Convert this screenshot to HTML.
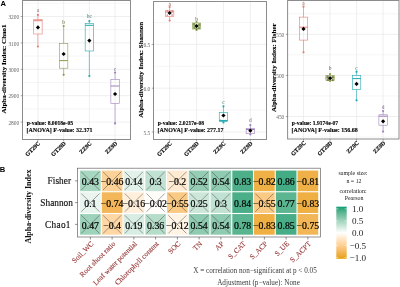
<!DOCTYPE html>
<html><head><meta charset="utf-8"><style>
html,body{margin:0;padding:0;background:#fff;width:400px;height:287px;overflow:hidden;}
svg{display:block;filter:blur(0.55px);}
</style></head><body>
<svg width="400" height="287" viewBox="0 0 400 287">
<rect x="22.5" y="0.5" width="108.0" height="139.0" fill="#fff"/>
<line x1="22.5" x2="130.5" y1="3.30" y2="3.30" stroke="#ececec" stroke-width="0.5"/>
<line x1="22.5" x2="130.5" y1="29.70" y2="29.70" stroke="#ececec" stroke-width="0.5"/>
<line x1="22.5" x2="130.5" y1="56.10" y2="56.10" stroke="#ececec" stroke-width="0.5"/>
<line x1="22.5" x2="130.5" y1="82.50" y2="82.50" stroke="#ececec" stroke-width="0.5"/>
<line x1="22.5" x2="130.5" y1="108.90" y2="108.90" stroke="#ececec" stroke-width="0.5"/>
<line x1="22.5" x2="130.5" y1="135.30" y2="135.30" stroke="#ececec" stroke-width="0.5"/>
<line x1="37.93" x2="37.93" y1="0.5" y2="139.5" stroke="#e4e4e4" stroke-width="0.6"/>
<line x1="63.64" x2="63.64" y1="0.5" y2="139.5" stroke="#e4e4e4" stroke-width="0.6"/>
<line x1="89.36" x2="89.36" y1="0.5" y2="139.5" stroke="#e4e4e4" stroke-width="0.6"/>
<line x1="115.07" x2="115.07" y1="0.5" y2="139.5" stroke="#e4e4e4" stroke-width="0.6"/>
<line x1="22.5" x2="130.5" y1="16.5" y2="16.5" stroke="#e4e4e4" stroke-width="0.6"/>
<line x1="22.5" x2="130.5" y1="42.9" y2="42.9" stroke="#e4e4e4" stroke-width="0.6"/>
<line x1="22.5" x2="130.5" y1="69.3" y2="69.3" stroke="#e4e4e4" stroke-width="0.6"/>
<line x1="22.5" x2="130.5" y1="95.7" y2="95.7" stroke="#e4e4e4" stroke-width="0.6"/>
<line x1="22.5" x2="130.5" y1="122.1" y2="122.1" stroke="#e4e4e4" stroke-width="0.6"/>
<line x1="37.93" x2="37.93" y1="14.9" y2="19.6" stroke="#e47c74" stroke-width="0.6"/>
<line x1="37.93" x2="37.93" y1="34" y2="46.5" stroke="#e47c74" stroke-width="0.6"/>
<rect x="33.73" y="19.6" width="8.4" height="14.40" fill="none" stroke="#e47c74" stroke-width="0.6"/>
<line x1="33.73" x2="42.13" y1="20.7" y2="20.7" stroke="#e47c74" stroke-width="1"/>
<circle cx="37.93" cy="14.9" r="1.1" fill="#e47c74"/>
<circle cx="37.93" cy="46.5" r="1.1" fill="#e47c74"/>
<path d="M37.93 25.30L40.03 27.40L37.93 29.50L35.83 27.40Z" fill="#000"/>
<text x="37.93" y="12.10" font-size="5.4" fill="#906060" text-anchor="middle" font-family='"Liberation Serif", serif'>a</text>
<line x1="63.64" x2="63.64" y1="26" y2="43.5" stroke="#8c9c4c" stroke-width="0.6"/>
<line x1="63.64" x2="63.64" y1="68.2" y2="74.8" stroke="#8c9c4c" stroke-width="0.6"/>
<rect x="59.44" y="43.5" width="8.4" height="24.70" fill="none" stroke="#8c9c4c" stroke-width="0.6"/>
<line x1="59.44" x2="67.84" y1="60.6" y2="60.6" stroke="#8c9c4c" stroke-width="1"/>
<circle cx="63.64" cy="26" r="1.1" fill="#8c9c4c"/>
<circle cx="63.64" cy="74.8" r="1.1" fill="#8c9c4c"/>
<path d="M63.64 51.90L65.74 54.00L63.64 56.10L61.54 54.00Z" fill="#000"/>
<text x="63.64" y="24.00" font-size="5.4" fill="#606040" text-anchor="middle" font-family='"Liberation Serif", serif'>b</text>
<line x1="89.36" x2="89.36" y1="21" y2="23.5" stroke="#22a8b0" stroke-width="0.6"/>
<line x1="89.36" x2="89.36" y1="51" y2="76" stroke="#22a8b0" stroke-width="0.6"/>
<rect x="85.16" y="23.5" width="8.4" height="27.50" fill="none" stroke="#22a8b0" stroke-width="0.6"/>
<line x1="85.16" x2="93.56" y1="25.3" y2="25.3" stroke="#22a8b0" stroke-width="1"/>
<circle cx="89.36" cy="21" r="1.1" fill="#22a8b0"/>
<circle cx="89.36" cy="76" r="1.1" fill="#22a8b0"/>
<path d="M89.36 38.50L91.46 40.60L89.36 42.70L87.26 40.60Z" fill="#000"/>
<text x="89.36" y="17.70" font-size="5.4" fill="#407878" text-anchor="middle" font-family='"Liberation Serif", serif'>bc</text>
<line x1="115.07" x2="115.07" y1="72.5" y2="79.3" stroke="#9e80bc" stroke-width="0.6"/>
<line x1="115.07" x2="115.07" y1="103.5" y2="123.4" stroke="#9e80bc" stroke-width="0.6"/>
<rect x="110.87" y="79.3" width="8.4" height="24.20" fill="none" stroke="#9e80bc" stroke-width="0.6"/>
<line x1="110.87" x2="119.27" y1="86" y2="86" stroke="#9e80bc" stroke-width="1"/>
<circle cx="115.07" cy="72.5" r="1.1" fill="#9e80bc"/>
<circle cx="115.07" cy="123.4" r="1.1" fill="#9e80bc"/>
<path d="M115.07 91.90L117.17 94.00L115.07 96.10L112.97 94.00Z" fill="#000"/>
<text x="115.07" y="70.50" font-size="5.4" fill="#705a80" text-anchor="middle" font-family='"Liberation Serif", serif'>c</text>
<rect x="22.5" y="0.5" width="108.0" height="139.0" fill="none" stroke="#8c8c8c" stroke-width="1"/>
<line x1="20.7" x2="22.5" y1="16.5" y2="16.5" stroke="#555" stroke-width="0.5"/>
<text x="19.2" y="19.1" font-size="5.4" fill="#666" text-anchor="end" font-family='"Liberation Serif", serif'>3200</text>
<line x1="20.7" x2="22.5" y1="42.9" y2="42.9" stroke="#555" stroke-width="0.5"/>
<text x="19.2" y="45.5" font-size="5.4" fill="#666" text-anchor="end" font-family='"Liberation Serif", serif'>3100</text>
<line x1="20.7" x2="22.5" y1="69.3" y2="69.3" stroke="#555" stroke-width="0.5"/>
<text x="19.2" y="71.89999999999999" font-size="5.4" fill="#666" text-anchor="end" font-family='"Liberation Serif", serif'>3000</text>
<line x1="20.7" x2="22.5" y1="95.7" y2="95.7" stroke="#555" stroke-width="0.5"/>
<text x="19.2" y="98.3" font-size="5.4" fill="#666" text-anchor="end" font-family='"Liberation Serif", serif'>2900</text>
<line x1="20.7" x2="22.5" y1="122.1" y2="122.1" stroke="#555" stroke-width="0.5"/>
<text x="19.2" y="124.69999999999999" font-size="5.4" fill="#666" text-anchor="end" font-family='"Liberation Serif", serif'>2800</text>
<line x1="37.93" x2="37.93" y1="139.5" y2="141.3" stroke="#555" stroke-width="0.5"/>
<text transform="translate(40.53,143.8) rotate(-45)" font-size="5.8" font-weight="bold" fill="#111" stroke="#111" stroke-width="0.2" text-anchor="end" font-family='"Liberation Serif", serif'>GT29C</text>
<line x1="63.64" x2="63.64" y1="139.5" y2="141.3" stroke="#555" stroke-width="0.5"/>
<text transform="translate(66.24,143.8) rotate(-45)" font-size="5.8" font-weight="bold" fill="#111" stroke="#111" stroke-width="0.2" text-anchor="end" font-family='"Liberation Serif", serif'>GT29D</text>
<line x1="89.36" x2="89.36" y1="139.5" y2="141.3" stroke="#555" stroke-width="0.5"/>
<text transform="translate(91.96,143.8) rotate(-45)" font-size="5.8" font-weight="bold" fill="#111" stroke="#111" stroke-width="0.2" text-anchor="end" font-family='"Liberation Serif", serif'>ZZ9C</text>
<line x1="115.07" x2="115.07" y1="139.5" y2="141.3" stroke="#555" stroke-width="0.5"/>
<text transform="translate(117.67,143.8) rotate(-45)" font-size="5.8" font-weight="bold" fill="#111" stroke="#111" stroke-width="0.2" text-anchor="end" font-family='"Liberation Serif", serif'>ZZ9D</text>
<text transform="translate(5.5,69) rotate(-90)" font-size="7" font-weight="bold" fill="#000" stroke="#000" stroke-width="0.12" text-anchor="middle" font-family='"Liberation Serif", serif'>Alpha-diversity Index: Chao1</text>
<text x="26.7" y="125.2" font-size="5.6" font-weight="bold" fill="#000" stroke="#000" stroke-width="0.12" font-family='"Liberation Serif", serif'>p-value: 8.0018e-05</text>
<text x="26.5" y="132.3" font-size="6.0" font-weight="bold" fill="#000" stroke="#000" stroke-width="0.12" font-family='"Liberation Serif", serif'>[ANOVA] F-value: 32.371</text>
<rect x="153.5" y="1.5" width="113.0" height="138.0" fill="#fff"/>
<line x1="153.5" x2="266.5" y1="22.50" y2="22.50" stroke="#ececec" stroke-width="0.5"/>
<line x1="153.5" x2="266.5" y1="66.30" y2="66.30" stroke="#ececec" stroke-width="0.5"/>
<line x1="153.5" x2="266.5" y1="110.10" y2="110.10" stroke="#ececec" stroke-width="0.5"/>
<line x1="169.64" x2="169.64" y1="1.5" y2="139.5" stroke="#e4e4e4" stroke-width="0.6"/>
<line x1="196.55" x2="196.55" y1="1.5" y2="139.5" stroke="#e4e4e4" stroke-width="0.6"/>
<line x1="223.45" x2="223.45" y1="1.5" y2="139.5" stroke="#e4e4e4" stroke-width="0.6"/>
<line x1="250.36" x2="250.36" y1="1.5" y2="139.5" stroke="#e4e4e4" stroke-width="0.6"/>
<line x1="153.5" x2="266.5" y1="44.4" y2="44.4" stroke="#e4e4e4" stroke-width="0.6"/>
<line x1="153.5" x2="266.5" y1="88.2" y2="88.2" stroke="#e4e4e4" stroke-width="0.6"/>
<line x1="153.5" x2="266.5" y1="132" y2="132" stroke="#e4e4e4" stroke-width="0.6"/>
<line x1="169.64" x2="169.64" y1="7" y2="10.8" stroke="#e47c74" stroke-width="0.6"/>
<line x1="169.64" x2="169.64" y1="16.6" y2="20.6" stroke="#e47c74" stroke-width="0.6"/>
<rect x="165.44" y="10.8" width="8.4" height="5.80" fill="none" stroke="#e47c74" stroke-width="0.6"/>
<line x1="165.44" x2="173.84" y1="12" y2="12" stroke="#e47c74" stroke-width="1"/>
<circle cx="169.64" cy="7" r="1.1" fill="#e47c74"/>
<circle cx="169.64" cy="20.6" r="1.1" fill="#e47c74"/>
<path d="M169.64 10.90L171.74 13.00L169.64 15.10L167.54 13.00Z" fill="#000"/>
<text x="169.64" y="5.90" font-size="5.4" fill="#906060" text-anchor="middle" font-family='"Liberation Serif", serif'>a</text>
<line x1="196.55" x2="196.55" y1="22" y2="23" stroke="#8c9c4c" stroke-width="0.6"/>
<line x1="196.55" x2="196.55" y1="29" y2="30" stroke="#8c9c4c" stroke-width="0.6"/>
<rect x="192.35" y="23" width="8.4" height="6.00" fill="none" stroke="#8c9c4c" stroke-width="0.6"/>
<line x1="192.35" x2="200.75" y1="26" y2="26" stroke="#8c9c4c" stroke-width="1"/>
<circle cx="196.55" cy="22" r="1.1" fill="#8c9c4c"/>
<circle cx="196.55" cy="30" r="1.1" fill="#8c9c4c"/>
<path d="M196.55 24.00L198.65 26.10L196.55 28.20L194.45 26.10Z" fill="#000"/>
<text x="196.55" y="20.70" font-size="5.4" fill="#606040" text-anchor="middle" font-family='"Liberation Serif", serif'>b</text>
<line x1="223.45" x2="223.45" y1="106.3" y2="112.6" stroke="#22a8b0" stroke-width="0.6"/>
<line x1="223.45" x2="223.45" y1="121.6" y2="122.5" stroke="#22a8b0" stroke-width="0.6"/>
<rect x="219.25" y="112.6" width="8.4" height="9.00" fill="none" stroke="#22a8b0" stroke-width="0.6"/>
<line x1="219.25" x2="227.65" y1="120.5" y2="120.5" stroke="#22a8b0" stroke-width="1"/>
<circle cx="223.45" cy="106.3" r="1.1" fill="#22a8b0"/>
<circle cx="223.45" cy="122.5" r="1.1" fill="#22a8b0"/>
<path d="M223.45 113.40L225.55 115.50L223.45 117.60L221.35 115.50Z" fill="#000"/>
<text x="223.45" y="104.00" font-size="5.4" fill="#407878" text-anchor="middle" font-family='"Liberation Serif", serif'>c</text>
<line x1="250.36" x2="250.36" y1="125.1" y2="128.4" stroke="#9e80bc" stroke-width="0.6"/>
<line x1="250.36" x2="250.36" y1="133.7" y2="134.5" stroke="#9e80bc" stroke-width="0.6"/>
<rect x="246.16" y="128.4" width="8.4" height="5.30" fill="none" stroke="#9e80bc" stroke-width="0.6"/>
<line x1="246.16" x2="254.56" y1="129.5" y2="129.5" stroke="#9e80bc" stroke-width="1"/>
<circle cx="250.36" cy="125.1" r="1.1" fill="#9e80bc"/>
<circle cx="250.36" cy="134.5" r="1.1" fill="#9e80bc"/>
<path d="M250.36 128.60L252.46 130.70L250.36 132.80L248.26 130.70Z" fill="#000"/>
<text x="250.36" y="121.80" font-size="5.4" fill="#705a80" text-anchor="middle" font-family='"Liberation Serif", serif'>d</text>
<rect x="153.5" y="1.5" width="113.0" height="138.0" fill="none" stroke="#8c8c8c" stroke-width="1"/>
<line x1="151.7" x2="153.5" y1="44.4" y2="44.4" stroke="#555" stroke-width="0.5"/>
<text x="150.2" y="47.0" font-size="5.4" fill="#666" text-anchor="end" font-family='"Liberation Serif", serif'>6.5</text>
<line x1="151.7" x2="153.5" y1="88.2" y2="88.2" stroke="#555" stroke-width="0.5"/>
<text x="150.2" y="90.8" font-size="5.4" fill="#666" text-anchor="end" font-family='"Liberation Serif", serif'>6.0</text>
<line x1="151.7" x2="153.5" y1="132" y2="132" stroke="#555" stroke-width="0.5"/>
<text x="150.2" y="134.6" font-size="5.4" fill="#666" text-anchor="end" font-family='"Liberation Serif", serif'>5.5</text>
<line x1="169.64" x2="169.64" y1="139.5" y2="141.3" stroke="#555" stroke-width="0.5"/>
<text transform="translate(172.24,143.8) rotate(-45)" font-size="5.8" font-weight="bold" fill="#111" stroke="#111" stroke-width="0.2" text-anchor="end" font-family='"Liberation Serif", serif'>GT29C</text>
<line x1="196.55" x2="196.55" y1="139.5" y2="141.3" stroke="#555" stroke-width="0.5"/>
<text transform="translate(199.15,143.8) rotate(-45)" font-size="5.8" font-weight="bold" fill="#111" stroke="#111" stroke-width="0.2" text-anchor="end" font-family='"Liberation Serif", serif'>GT29D</text>
<line x1="223.45" x2="223.45" y1="139.5" y2="141.3" stroke="#555" stroke-width="0.5"/>
<text transform="translate(226.05,143.8) rotate(-45)" font-size="5.8" font-weight="bold" fill="#111" stroke="#111" stroke-width="0.2" text-anchor="end" font-family='"Liberation Serif", serif'>ZZ9C</text>
<line x1="250.36" x2="250.36" y1="139.5" y2="141.3" stroke="#555" stroke-width="0.5"/>
<text transform="translate(252.96,143.8) rotate(-45)" font-size="5.8" font-weight="bold" fill="#111" stroke="#111" stroke-width="0.2" text-anchor="end" font-family='"Liberation Serif", serif'>ZZ9D</text>
<text transform="translate(142.8,69.8) rotate(-90)" font-size="7" font-weight="bold" fill="#000" stroke="#000" stroke-width="0.12" text-anchor="middle" font-family='"Liberation Serif", serif'>Alpha-diversity Index: Shannon</text>
<text x="157.7" y="125.2" font-size="5.6" font-weight="bold" fill="#000" stroke="#000" stroke-width="0.12" font-family='"Liberation Serif", serif'>p-value: 2.0217e-08</text>
<text x="157.5" y="132.3" font-size="6.0" font-weight="bold" fill="#000" stroke="#000" stroke-width="0.12" font-family='"Liberation Serif", serif'>[ANOVA] F-value: 277.17</text>
<rect x="287.6" y="0.5" width="111.39999999999998" height="138.5" fill="#fff"/>
<line x1="287.6" x2="399" y1="13.75" y2="13.75" stroke="#ececec" stroke-width="0.5"/>
<line x1="287.6" x2="399" y1="54.85" y2="54.85" stroke="#ececec" stroke-width="0.5"/>
<line x1="287.6" x2="399" y1="95.95" y2="95.95" stroke="#ececec" stroke-width="0.5"/>
<line x1="287.6" x2="399" y1="137.05" y2="137.05" stroke="#ececec" stroke-width="0.5"/>
<line x1="303.51" x2="303.51" y1="0.5" y2="139" stroke="#e4e4e4" stroke-width="0.6"/>
<line x1="330.04" x2="330.04" y1="0.5" y2="139" stroke="#e4e4e4" stroke-width="0.6"/>
<line x1="356.56" x2="356.56" y1="0.5" y2="139" stroke="#e4e4e4" stroke-width="0.6"/>
<line x1="383.09" x2="383.09" y1="0.5" y2="139" stroke="#e4e4e4" stroke-width="0.6"/>
<line x1="287.6" x2="399" y1="34.3" y2="34.3" stroke="#e4e4e4" stroke-width="0.6"/>
<line x1="287.6" x2="399" y1="75.4" y2="75.4" stroke="#e4e4e4" stroke-width="0.6"/>
<line x1="287.6" x2="399" y1="116.5" y2="116.5" stroke="#e4e4e4" stroke-width="0.6"/>
<line x1="303.51" x2="303.51" y1="6.7" y2="17.1" stroke="#e47c74" stroke-width="0.6"/>
<line x1="303.51" x2="303.51" y1="40.1" y2="52.3" stroke="#e47c74" stroke-width="0.6"/>
<rect x="299.31" y="17.1" width="8.4" height="23.00" fill="none" stroke="#e47c74" stroke-width="0.6"/>
<line x1="299.31" x2="307.71" y1="27.2" y2="27.2" stroke="#e47c74" stroke-width="1"/>
<circle cx="303.51" cy="6.7" r="1.1" fill="#e47c74"/>
<circle cx="303.51" cy="52.3" r="1.1" fill="#e47c74"/>
<path d="M303.51 26.80L305.61 28.90L303.51 31.00L301.41 28.90Z" fill="#000"/>
<text x="303.51" y="4.60" font-size="5.4" fill="#906060" text-anchor="middle" font-family='"Liberation Serif", serif'>a</text>
<line x1="330.04" x2="330.04" y1="74" y2="75.5" stroke="#8c9c4c" stroke-width="0.6"/>
<line x1="330.04" x2="330.04" y1="80.5" y2="81" stroke="#8c9c4c" stroke-width="0.6"/>
<rect x="325.84" y="75.5" width="8.4" height="5.00" fill="none" stroke="#8c9c4c" stroke-width="0.6"/>
<line x1="325.84" x2="334.24" y1="78" y2="78" stroke="#8c9c4c" stroke-width="1"/>
<circle cx="330.04" cy="74" r="1.1" fill="#8c9c4c"/>
<circle cx="330.04" cy="81" r="1.1" fill="#8c9c4c"/>
<path d="M330.04 76.10L332.14 78.20L330.04 80.30L327.94 78.20Z" fill="#000"/>
<text x="330.04" y="69.70" font-size="5.4" fill="#606040" text-anchor="middle" font-family='"Liberation Serif", serif'>b</text>
<line x1="356.56" x2="356.56" y1="71.7" y2="75.5" stroke="#22a8b0" stroke-width="0.6"/>
<line x1="356.56" x2="356.56" y1="89.5" y2="100.3" stroke="#22a8b0" stroke-width="0.6"/>
<rect x="352.36" y="75.5" width="8.4" height="14.00" fill="none" stroke="#22a8b0" stroke-width="0.6"/>
<line x1="352.36" x2="360.76" y1="78.6" y2="78.6" stroke="#22a8b0" stroke-width="1"/>
<circle cx="356.56" cy="71.7" r="1.1" fill="#22a8b0"/>
<circle cx="356.56" cy="100.3" r="1.1" fill="#22a8b0"/>
<path d="M356.56 81.80L358.66 83.90L356.56 86.00L354.46 83.90Z" fill="#000"/>
<text x="356.56" y="69.70" font-size="5.4" fill="#407878" text-anchor="middle" font-family='"Liberation Serif", serif'>c</text>
<line x1="383.09" x2="383.09" y1="111" y2="114.8" stroke="#9e80bc" stroke-width="0.6"/>
<line x1="383.09" x2="383.09" y1="125.2" y2="131.6" stroke="#9e80bc" stroke-width="0.6"/>
<rect x="378.89" y="114.8" width="8.4" height="10.40" fill="none" stroke="#9e80bc" stroke-width="0.6"/>
<line x1="378.89" x2="387.29" y1="116.2" y2="116.2" stroke="#9e80bc" stroke-width="1"/>
<circle cx="383.09" cy="111" r="1.1" fill="#9e80bc"/>
<circle cx="383.09" cy="131.6" r="1.1" fill="#9e80bc"/>
<path d="M383.09 119.20L385.19 121.30L383.09 123.40L380.99 121.30Z" fill="#000"/>
<text x="383.09" y="109.40" font-size="5.4" fill="#705a80" text-anchor="middle" font-family='"Liberation Serif", serif'>d</text>
<rect x="287.6" y="0.5" width="111.39999999999998" height="138.5" fill="none" stroke="#8c8c8c" stroke-width="1"/>
<line x1="285.8" x2="287.6" y1="34.3" y2="34.3" stroke="#555" stroke-width="0.5"/>
<text x="284.3" y="36.9" font-size="5.4" fill="#666" text-anchor="end" font-family='"Liberation Serif", serif'>550</text>
<line x1="285.8" x2="287.6" y1="75.4" y2="75.4" stroke="#555" stroke-width="0.5"/>
<text x="284.3" y="78.0" font-size="5.4" fill="#666" text-anchor="end" font-family='"Liberation Serif", serif'>500</text>
<line x1="285.8" x2="287.6" y1="116.5" y2="116.5" stroke="#555" stroke-width="0.5"/>
<text x="284.3" y="119.1" font-size="5.4" fill="#666" text-anchor="end" font-family='"Liberation Serif", serif'>450</text>
<line x1="303.51" x2="303.51" y1="139" y2="140.8" stroke="#555" stroke-width="0.5"/>
<text transform="translate(306.11,143.3) rotate(-45)" font-size="5.8" font-weight="bold" fill="#111" stroke="#111" stroke-width="0.2" text-anchor="end" font-family='"Liberation Serif", serif'>GT29C</text>
<line x1="330.04" x2="330.04" y1="139" y2="140.8" stroke="#555" stroke-width="0.5"/>
<text transform="translate(332.64,143.3) rotate(-45)" font-size="5.8" font-weight="bold" fill="#111" stroke="#111" stroke-width="0.2" text-anchor="end" font-family='"Liberation Serif", serif'>GT29D</text>
<line x1="356.56" x2="356.56" y1="139" y2="140.8" stroke="#555" stroke-width="0.5"/>
<text transform="translate(359.16,143.3) rotate(-45)" font-size="5.8" font-weight="bold" fill="#111" stroke="#111" stroke-width="0.2" text-anchor="end" font-family='"Liberation Serif", serif'>ZZ9C</text>
<line x1="383.09" x2="383.09" y1="139" y2="140.8" stroke="#555" stroke-width="0.5"/>
<text transform="translate(385.69,143.3) rotate(-45)" font-size="5.8" font-weight="bold" fill="#111" stroke="#111" stroke-width="0.2" text-anchor="end" font-family='"Liberation Serif", serif'>ZZ9D</text>
<text transform="translate(275.8,67.7) rotate(-90)" font-size="7" font-weight="bold" fill="#000" stroke="#000" stroke-width="0.12" text-anchor="middle" font-family='"Liberation Serif", serif'>Alpha-diversity Index: Fisher</text>
<text x="291.8" y="124.7" font-size="5.6" font-weight="bold" fill="#000" stroke="#000" stroke-width="0.12" font-family='"Liberation Serif", serif'>p-value: 1.9174e-07</text>
<text x="291.6" y="131.8" font-size="6.0" font-weight="bold" fill="#000" stroke="#000" stroke-width="0.12" font-family='"Liberation Serif", serif'>[ANOVA] F-value: 156.68</text>
<circle cx="194.10" cy="24.30" r="1.3" fill="#5a7a2a" opacity="0.75"/>
<circle cx="199.20" cy="24.60" r="1.3" fill="#5a7a2a" opacity="0.75"/>
<circle cx="194.40" cy="27.80" r="1.3" fill="#5a7a2a" opacity="0.75"/>
<circle cx="199.00" cy="28.00" r="1.2" fill="#5a7a2a" opacity="0.75"/>
<circle cx="196.60" cy="28.80" r="1.1" fill="#5a7a2a" opacity="0.75"/>
<circle cx="327.60" cy="76.80" r="1.3" fill="#5a6a2a" opacity="0.75"/>
<circle cx="332.80" cy="77.00" r="1.3" fill="#5a6a2a" opacity="0.75"/>
<circle cx="327.90" cy="79.80" r="1.3" fill="#5a6a2a" opacity="0.75"/>
<circle cx="332.70" cy="80.00" r="1.2" fill="#5a6a2a" opacity="0.75"/>
<circle cx="167.10" cy="10.70" r="0.9" fill="#d08080" opacity="0.75"/>
<circle cx="172.30" cy="11.00" r="0.9" fill="#d08080" opacity="0.75"/>
<circle cx="167.30" cy="15.20" r="0.9" fill="#d08080" opacity="0.75"/>
<circle cx="172.10" cy="15.00" r="0.9" fill="#d08080" opacity="0.75"/>
<circle cx="220.70" cy="120.50" r="1.0" fill="#30b0b0" opacity="0.75"/>
<circle cx="225.90" cy="120.70" r="1.0" fill="#30b0b0" opacity="0.75"/>
<circle cx="223.30" cy="121.50" r="1.0" fill="#30b0b0" opacity="0.75"/>
<text x="0.6" y="5.7" font-size="7.6" font-weight="bold" fill="#000" font-family='"Liberation Sans", sans-serif'>A</text>
<text x="-0.2" y="172.4" font-size="7.6" font-weight="bold" fill="#000" font-family='"Liberation Sans", sans-serif'>B</text>
<rect x="77.6" y="168.2" width="242.79999999999998" height="68.80000000000001" fill="#fff"/>
<rect x="80.05" y="170.55" width="20.65" height="20.65" fill="#a7d6c1"/>
<path d="M81.30 171.80L99.45 189.95M99.45 171.80L81.30 189.95" stroke="#404040" stroke-width="0.65" opacity="0.72"/>
<rect x="101.80" y="170.55" width="20.65" height="20.65" fill="#fdd298"/>
<path d="M103.05 171.80L121.20 189.95M121.20 171.80L103.05 189.95" stroke="#404040" stroke-width="0.65" opacity="0.72"/>
<rect x="123.55" y="170.55" width="20.65" height="20.65" fill="#e2f2ea"/>
<path d="M124.80 171.80L142.95 189.95M142.95 171.80L124.80 189.95" stroke="#404040" stroke-width="0.65" opacity="0.72"/>
<rect x="145.30" y="170.55" width="20.65" height="20.65" fill="#c1e2d3"/>
<path d="M146.55 171.80L164.70 189.95M164.70 171.80L146.55 189.95" stroke="#404040" stroke-width="0.65" opacity="0.72"/>
<rect x="167.05" y="170.55" width="20.65" height="20.65" fill="#ffebd2"/>
<path d="M168.30 171.80L186.45 189.95M186.45 171.80L168.30 189.95" stroke="#404040" stroke-width="0.65" opacity="0.72"/>
<rect x="188.80" y="170.55" width="20.65" height="20.65" fill="#94cdb4"/>
<path d="M190.05 171.80L208.20 189.95M208.20 171.80L190.05 189.95" stroke="#404040" stroke-width="0.65" opacity="0.72"/>
<rect x="210.55" y="170.55" width="20.65" height="20.65" fill="#8fcbb1"/>
<path d="M211.80 171.80L229.95 189.95M229.95 171.80L211.80 189.95" stroke="#404040" stroke-width="0.65" opacity="0.72"/>
<rect x="232.30" y="170.55" width="20.65" height="20.65" fill="#4caf89"/>
<rect x="254.05" y="170.55" width="20.65" height="20.65" fill="#efb045"/>
<rect x="275.80" y="170.55" width="20.65" height="20.65" fill="#44ac85"/>
<rect x="297.55" y="170.55" width="20.65" height="20.65" fill="#f0b048"/>
<rect x="80.05" y="192.30" width="20.65" height="20.65" fill="#eaf5f0"/>
<path d="M81.30 193.55L99.45 211.70M99.45 193.55L81.30 211.70" stroke="#404040" stroke-width="0.65" opacity="0.72"/>
<rect x="101.80" y="192.30" width="20.65" height="20.65" fill="#f3b759"/>
<rect x="123.55" y="192.30" width="20.65" height="20.65" fill="#ffefdb"/>
<path d="M124.80 193.55L142.95 211.70M142.95 193.55L124.80 211.70" stroke="#404040" stroke-width="0.65" opacity="0.72"/>
<rect x="145.30" y="192.30" width="20.65" height="20.65" fill="#fffdfa"/>
<path d="M146.55 193.55L164.70 211.70M164.70 193.55L146.55 211.70" stroke="#404040" stroke-width="0.65" opacity="0.72"/>
<rect x="167.05" y="192.30" width="20.65" height="20.65" fill="#fac984"/>
<path d="M168.30 193.55L186.45 211.70M186.45 193.55L168.30 211.70" stroke="#404040" stroke-width="0.65" opacity="0.72"/>
<rect x="188.80" y="192.30" width="20.65" height="20.65" fill="#cce7da"/>
<path d="M190.05 193.55L208.20 211.70M208.20 193.55L190.05 211.70" stroke="#404040" stroke-width="0.65" opacity="0.72"/>
<rect x="210.55" y="192.30" width="20.65" height="20.65" fill="#c1e2d3"/>
<path d="M211.80 193.55L229.95 211.70M229.95 193.55L211.80 211.70" stroke="#404040" stroke-width="0.65" opacity="0.72"/>
<rect x="232.30" y="192.30" width="20.65" height="20.65" fill="#4aae88"/>
<rect x="254.05" y="192.30" width="20.65" height="20.65" fill="#fac984"/>
<path d="M255.30 193.55L273.45 211.70M273.45 193.55L255.30 211.70" stroke="#404040" stroke-width="0.65" opacity="0.72"/>
<rect x="275.80" y="192.30" width="20.65" height="20.65" fill="#5cb591"/>
<rect x="297.55" y="192.30" width="20.65" height="20.65" fill="#efaf43"/>
<rect x="80.05" y="214.05" width="20.65" height="20.65" fill="#9ed2bb"/>
<path d="M81.30 215.30L99.45 233.45M99.45 215.30L81.30 233.45" stroke="#404040" stroke-width="0.65" opacity="0.72"/>
<rect x="101.80" y="214.05" width="20.65" height="20.65" fill="#fed7a5"/>
<path d="M103.05 215.30L121.20 233.45M121.20 215.30L103.05 233.45" stroke="#404040" stroke-width="0.65" opacity="0.72"/>
<rect x="123.55" y="214.05" width="20.65" height="20.65" fill="#d8ede3"/>
<path d="M124.80 215.30L142.95 233.45M142.95 215.30L124.80 233.45" stroke="#404040" stroke-width="0.65" opacity="0.72"/>
<rect x="145.30" y="214.05" width="20.65" height="20.65" fill="#b5ddca"/>
<path d="M146.55 215.30L164.70 233.45M164.70 215.30L146.55 233.45" stroke="#404040" stroke-width="0.65" opacity="0.72"/>
<rect x="167.05" y="214.05" width="20.65" height="20.65" fill="#fff3e4"/>
<path d="M168.30 215.30L186.45 233.45M186.45 215.30L168.30 233.45" stroke="#404040" stroke-width="0.65" opacity="0.72"/>
<rect x="188.80" y="214.05" width="20.65" height="20.65" fill="#8fcbb1"/>
<path d="M190.05 215.30L208.20 233.45M208.20 215.30L190.05 233.45" stroke="#404040" stroke-width="0.65" opacity="0.72"/>
<rect x="210.55" y="214.05" width="20.65" height="20.65" fill="#8fcbb1"/>
<path d="M211.80 215.30L229.95 233.45M229.95 215.30L211.80 233.45" stroke="#404040" stroke-width="0.65" opacity="0.72"/>
<rect x="232.30" y="214.05" width="20.65" height="20.65" fill="#59b490"/>
<rect x="254.05" y="214.05" width="20.65" height="20.65" fill="#efaf43"/>
<rect x="275.80" y="214.05" width="20.65" height="20.65" fill="#47ad87"/>
<rect x="297.55" y="214.05" width="20.65" height="20.65" fill="#f3b656"/>
<text x="90.38" y="185.18" font-size="9.8" fill="#000" stroke="#000" stroke-width="0.2" text-anchor="middle" font-family='"Liberation Serif", serif'>0.43</text>
<text x="112.12" y="185.18" font-size="9.8" fill="#000" stroke="#000" stroke-width="0.2" text-anchor="middle" font-family='"Liberation Serif", serif'>−0.46</text>
<text x="133.88" y="185.18" font-size="9.8" fill="#000" stroke="#000" stroke-width="0.2" text-anchor="middle" font-family='"Liberation Serif", serif'>0.14</text>
<text x="155.62" y="185.18" font-size="9.8" fill="#000" stroke="#000" stroke-width="0.2" text-anchor="middle" font-family='"Liberation Serif", serif'>0.3</text>
<text x="177.38" y="185.18" font-size="9.8" fill="#000" stroke="#000" stroke-width="0.2" text-anchor="middle" font-family='"Liberation Serif", serif'>−0.2</text>
<text x="199.12" y="185.18" font-size="9.8" fill="#000" stroke="#000" stroke-width="0.2" text-anchor="middle" font-family='"Liberation Serif", serif'>0.52</text>
<text x="220.88" y="185.18" font-size="9.8" fill="#000" stroke="#000" stroke-width="0.2" text-anchor="middle" font-family='"Liberation Serif", serif'>0.54</text>
<text x="242.62" y="185.18" font-size="9.8" fill="#000" stroke="#000" stroke-width="0.2" text-anchor="middle" font-family='"Liberation Serif", serif'>0.83</text>
<text x="264.38" y="185.18" font-size="9.8" fill="#000" stroke="#000" stroke-width="0.2" text-anchor="middle" font-family='"Liberation Serif", serif'>−0.82</text>
<text x="286.12" y="185.18" font-size="9.8" fill="#000" stroke="#000" stroke-width="0.2" text-anchor="middle" font-family='"Liberation Serif", serif'>0.86</text>
<text x="307.88" y="185.18" font-size="9.8" fill="#000" stroke="#000" stroke-width="0.2" text-anchor="middle" font-family='"Liberation Serif", serif'>−0.81</text>
<text x="90.38" y="206.93" font-size="9.8" fill="#000" stroke="#000" stroke-width="0.2" text-anchor="middle" font-family='"Liberation Serif", serif'>0.1</text>
<text x="112.12" y="206.93" font-size="9.8" fill="#000" stroke="#000" stroke-width="0.2" text-anchor="middle" font-family='"Liberation Serif", serif'>−0.74</text>
<text x="133.88" y="206.93" font-size="9.8" fill="#000" stroke="#000" stroke-width="0.2" text-anchor="middle" font-family='"Liberation Serif", serif'>−0.16</text>
<text x="155.62" y="206.93" font-size="9.8" fill="#000" stroke="#000" stroke-width="0.2" text-anchor="middle" font-family='"Liberation Serif", serif'>−0.02</text>
<text x="177.38" y="206.93" font-size="9.8" fill="#000" stroke="#000" stroke-width="0.2" text-anchor="middle" font-family='"Liberation Serif", serif'>−0.55</text>
<text x="199.12" y="206.93" font-size="9.8" fill="#000" stroke="#000" stroke-width="0.2" text-anchor="middle" font-family='"Liberation Serif", serif'>0.25</text>
<text x="220.88" y="206.93" font-size="9.8" fill="#000" stroke="#000" stroke-width="0.2" text-anchor="middle" font-family='"Liberation Serif", serif'>0.3</text>
<text x="242.62" y="206.93" font-size="9.8" fill="#000" stroke="#000" stroke-width="0.2" text-anchor="middle" font-family='"Liberation Serif", serif'>0.84</text>
<text x="264.38" y="206.93" font-size="9.8" fill="#000" stroke="#000" stroke-width="0.2" text-anchor="middle" font-family='"Liberation Serif", serif'>−0.55</text>
<text x="286.12" y="206.93" font-size="9.8" fill="#000" stroke="#000" stroke-width="0.2" text-anchor="middle" font-family='"Liberation Serif", serif'>0.77</text>
<text x="307.88" y="206.93" font-size="9.8" fill="#000" stroke="#000" stroke-width="0.2" text-anchor="middle" font-family='"Liberation Serif", serif'>−0.83</text>
<text x="90.38" y="228.68" font-size="9.8" fill="#000" stroke="#000" stroke-width="0.2" text-anchor="middle" font-family='"Liberation Serif", serif'>0.47</text>
<text x="112.12" y="228.68" font-size="9.8" fill="#000" stroke="#000" stroke-width="0.2" text-anchor="middle" font-family='"Liberation Serif", serif'>−0.4</text>
<text x="133.88" y="228.68" font-size="9.8" fill="#000" stroke="#000" stroke-width="0.2" text-anchor="middle" font-family='"Liberation Serif", serif'>0.19</text>
<text x="155.62" y="228.68" font-size="9.8" fill="#000" stroke="#000" stroke-width="0.2" text-anchor="middle" font-family='"Liberation Serif", serif'>0.36</text>
<text x="177.38" y="228.68" font-size="9.8" fill="#000" stroke="#000" stroke-width="0.2" text-anchor="middle" font-family='"Liberation Serif", serif'>−0.12</text>
<text x="199.12" y="228.68" font-size="9.8" fill="#000" stroke="#000" stroke-width="0.2" text-anchor="middle" font-family='"Liberation Serif", serif'>0.54</text>
<text x="220.88" y="228.68" font-size="9.8" fill="#000" stroke="#000" stroke-width="0.2" text-anchor="middle" font-family='"Liberation Serif", serif'>0.54</text>
<text x="242.62" y="228.68" font-size="9.8" fill="#000" stroke="#000" stroke-width="0.2" text-anchor="middle" font-family='"Liberation Serif", serif'>0.78</text>
<text x="264.38" y="228.68" font-size="9.8" fill="#000" stroke="#000" stroke-width="0.2" text-anchor="middle" font-family='"Liberation Serif", serif'>−0.83</text>
<text x="286.12" y="228.68" font-size="9.8" fill="#000" stroke="#000" stroke-width="0.2" text-anchor="middle" font-family='"Liberation Serif", serif'>0.85</text>
<text x="307.88" y="228.68" font-size="9.8" fill="#000" stroke="#000" stroke-width="0.2" text-anchor="middle" font-family='"Liberation Serif", serif'>−0.75</text>
<rect x="77.6" y="168.2" width="242.79999999999998" height="68.80000000000001" fill="none" stroke="#666" stroke-width="0.7"/>
<line x1="75.1" x2="77.6" y1="180.88" y2="180.88" stroke="#444" stroke-width="0.6"/>
<text x="71.3" y="184.18" font-size="9.3" fill="#111" stroke="#111" stroke-width="0.15" letter-spacing="0.1" text-anchor="end" font-family='"Liberation Serif", serif'>Fisher</text>
<line x1="75.1" x2="77.6" y1="202.62" y2="202.62" stroke="#444" stroke-width="0.6"/>
<text x="72.9" y="205.93" font-size="9.3" fill="#111" stroke="#111" stroke-width="0.15" letter-spacing="0" text-anchor="end" font-family='"Liberation Serif", serif'>Shannon</text>
<line x1="75.1" x2="77.6" y1="224.38" y2="224.38" stroke="#444" stroke-width="0.6"/>
<text x="70.8" y="227.68" font-size="9.3" fill="#111" stroke="#111" stroke-width="0.15" letter-spacing="0.3" text-anchor="end" font-family='"Liberation Serif", serif'>Chao1</text>
<line x1="90.38" x2="90.38" y1="237.0" y2="239.5" stroke="#444" stroke-width="0.6"/>
<text transform="translate(93.97,244.2) rotate(-45)" font-size="7.3" fill="#963636" stroke="#963636" stroke-width="0.12" text-anchor="end" font-family='"Liberation Serif", serif'>Soil_WC</text>
<line x1="112.12" x2="112.12" y1="237.0" y2="239.5" stroke="#444" stroke-width="0.6"/>
<text transform="translate(115.72,244.2) rotate(-45)" font-size="7.3" fill="#963636" stroke="#963636" stroke-width="0.12" text-anchor="end" font-family='"Liberation Serif", serif'>Root shoot ratio</text>
<line x1="133.88" x2="133.88" y1="237.0" y2="239.5" stroke="#444" stroke-width="0.6"/>
<text transform="translate(137.47,244.2) rotate(-45)" font-size="7.3" fill="#963636" stroke="#963636" stroke-width="0.12" text-anchor="end" font-family='"Liberation Serif", serif'>Leaf water potential</text>
<line x1="155.62" x2="155.62" y1="237.0" y2="239.5" stroke="#444" stroke-width="0.6"/>
<text transform="translate(159.22,244.2) rotate(-45)" font-size="7.3" fill="#963636" stroke="#963636" stroke-width="0.12" text-anchor="end" font-family='"Liberation Serif", serif'>Chlorophyll content</text>
<line x1="177.38" x2="177.38" y1="237.0" y2="239.5" stroke="#444" stroke-width="0.6"/>
<text transform="translate(180.97,244.2) rotate(-45)" font-size="7.3" fill="#963636" stroke="#963636" stroke-width="0.12" text-anchor="end" font-family='"Liberation Serif", serif'>SOC</text>
<line x1="199.12" x2="199.12" y1="237.0" y2="239.5" stroke="#444" stroke-width="0.6"/>
<text transform="translate(202.72,244.2) rotate(-45)" font-size="7.3" fill="#963636" stroke="#963636" stroke-width="0.12" text-anchor="end" font-family='"Liberation Serif", serif'>TN</text>
<line x1="220.88" x2="220.88" y1="237.0" y2="239.5" stroke="#444" stroke-width="0.6"/>
<text transform="translate(224.47,244.2) rotate(-45)" font-size="7.3" fill="#963636" stroke="#963636" stroke-width="0.12" text-anchor="end" font-family='"Liberation Serif", serif'>AP</text>
<line x1="242.62" x2="242.62" y1="237.0" y2="239.5" stroke="#444" stroke-width="0.6"/>
<text transform="translate(246.22,244.2) rotate(-45)" font-size="7.3" fill="#963636" stroke="#963636" stroke-width="0.12" text-anchor="end" font-family='"Liberation Serif", serif'>S_CAT</text>
<line x1="264.38" x2="264.38" y1="237.0" y2="239.5" stroke="#444" stroke-width="0.6"/>
<text transform="translate(267.98,244.2) rotate(-45)" font-size="7.3" fill="#963636" stroke="#963636" stroke-width="0.12" text-anchor="end" font-family='"Liberation Serif", serif'>S_ACP</text>
<line x1="286.12" x2="286.12" y1="237.0" y2="239.5" stroke="#444" stroke-width="0.6"/>
<text transform="translate(289.73,244.2) rotate(-45)" font-size="7.3" fill="#963636" stroke="#963636" stroke-width="0.12" text-anchor="end" font-family='"Liberation Serif", serif'>S_UE</text>
<line x1="307.88" x2="307.88" y1="237.0" y2="239.5" stroke="#444" stroke-width="0.6"/>
<text transform="translate(311.48,244.2) rotate(-45)" font-size="7.3" fill="#963636" stroke="#963636" stroke-width="0.12" text-anchor="end" font-family='"Liberation Serif", serif'>S_ACPT</text>
<text transform="translate(30.6,206.6) rotate(-90)" font-size="7.9" font-weight="bold" fill="#111" text-anchor="middle" font-family='"Liberation Serif", serif'>Alpha-diversity Index</text>
<text x="353" y="175.3" font-size="5.9" fill="#222" text-anchor="middle" font-family='"Liberation Serif", serif'>sample size:</text>
<text x="354" y="183.2" font-size="5.9" fill="#222" text-anchor="middle" font-family='"Liberation Serif", serif'>n = 12</text>
<text x="353" y="192.9" font-size="5.9" fill="#222" text-anchor="middle" font-family='"Liberation Serif", serif'>correlation:</text>
<text x="354" y="200" font-size="5.9" fill="#222" text-anchor="middle" font-family='"Liberation Serif", serif'>Pearson</text>
<defs><linearGradient id="lg" x1="0" y1="0" x2="0" y2="1"><stop offset="0.000" stop-color="#009e73"/><stop offset="0.025" stop-color="#25a37a"/><stop offset="0.050" stop-color="#38a880"/><stop offset="0.075" stop-color="#47ad87"/><stop offset="0.100" stop-color="#54b28d"/><stop offset="0.125" stop-color="#60b794"/><stop offset="0.150" stop-color="#6cbc9b"/><stop offset="0.175" stop-color="#77c0a2"/><stop offset="0.200" stop-color="#82c5a9"/><stop offset="0.225" stop-color="#8dcab0"/><stop offset="0.250" stop-color="#98cfb7"/><stop offset="0.275" stop-color="#a2d4be"/><stop offset="0.300" stop-color="#add9c5"/><stop offset="0.325" stop-color="#b7decc"/><stop offset="0.350" stop-color="#c1e2d3"/><stop offset="0.375" stop-color="#cce7da"/><stop offset="0.400" stop-color="#d6ece2"/><stop offset="0.425" stop-color="#e0f1e9"/><stop offset="0.450" stop-color="#eaf5f0"/><stop offset="0.475" stop-color="#f5faf8"/><stop offset="0.500" stop-color="#ffffff"/><stop offset="0.525" stop-color="#fffaf4"/><stop offset="0.550" stop-color="#fff5e8"/><stop offset="0.575" stop-color="#fff0dd"/><stop offset="0.600" stop-color="#ffebd2"/><stop offset="0.625" stop-color="#ffe6c6"/><stop offset="0.650" stop-color="#ffe1bb"/><stop offset="0.675" stop-color="#ffdcb0"/><stop offset="0.700" stop-color="#fed7a5"/><stop offset="0.725" stop-color="#fdd39a"/><stop offset="0.750" stop-color="#fcce8f"/><stop offset="0.775" stop-color="#fac984"/><stop offset="0.800" stop-color="#f9c479"/><stop offset="0.825" stop-color="#f7bf6d"/><stop offset="0.850" stop-color="#f5bb62"/><stop offset="0.875" stop-color="#f3b656"/><stop offset="0.900" stop-color="#f0b14a"/><stop offset="0.925" stop-color="#eead3d"/><stop offset="0.950" stop-color="#eba82f"/><stop offset="0.975" stop-color="#e9a41e"/><stop offset="1.000" stop-color="#e69f00"/></linearGradient></defs>
<rect x="336.3" y="206.7" width="10.4" height="52.1" fill="url(#lg)"/>
<line x1="336.3" x2="338.3" y1="208.80" y2="208.80" stroke="#fff" stroke-width="0.5"/>
<line x1="344.7" x2="346.7" y1="208.80" y2="208.80" stroke="#fff" stroke-width="0.5"/>
<text x="352" y="212.00" font-size="9.1" fill="#222" font-family='"Liberation Serif", serif'>1.0</text>
<line x1="336.3" x2="338.3" y1="221.00" y2="221.00" stroke="#fff" stroke-width="0.5"/>
<line x1="344.7" x2="346.7" y1="221.00" y2="221.00" stroke="#fff" stroke-width="0.5"/>
<text x="352" y="224.20" font-size="9.1" fill="#222" font-family='"Liberation Serif", serif'>0.5</text>
<line x1="336.3" x2="338.3" y1="233.20" y2="233.20" stroke="#fff" stroke-width="0.5"/>
<line x1="344.7" x2="346.7" y1="233.20" y2="233.20" stroke="#fff" stroke-width="0.5"/>
<text x="352" y="236.40" font-size="9.1" fill="#222" font-family='"Liberation Serif", serif'>0.0</text>
<line x1="336.3" x2="338.3" y1="245.40" y2="245.40" stroke="#fff" stroke-width="0.5"/>
<line x1="344.7" x2="346.7" y1="245.40" y2="245.40" stroke="#fff" stroke-width="0.5"/>
<text x="349.6" y="248.60" font-size="9.1" fill="#222" font-family='"Liberation Serif", serif'>−0.5</text>
<line x1="336.3" x2="338.3" y1="257.60" y2="257.60" stroke="#fff" stroke-width="0.5"/>
<line x1="344.7" x2="346.7" y1="257.60" y2="257.60" stroke="#fff" stroke-width="0.5"/>
<text x="349.6" y="260.80" font-size="9.1" fill="#222" font-family='"Liberation Serif", serif'>−1.0</text>
<text x="255" y="272.9" font-size="7.2" fill="#3a3a3a" text-anchor="middle" font-family='"Liberation Serif", serif'>X = correlation non−significant at p &lt; 0.05</text>
<text x="258.5" y="284.8" font-size="7.2" fill="#3a3a3a" text-anchor="middle" font-family='"Liberation Serif", serif'>Adjustment (p−value): None</text>
</svg>
</body></html>
